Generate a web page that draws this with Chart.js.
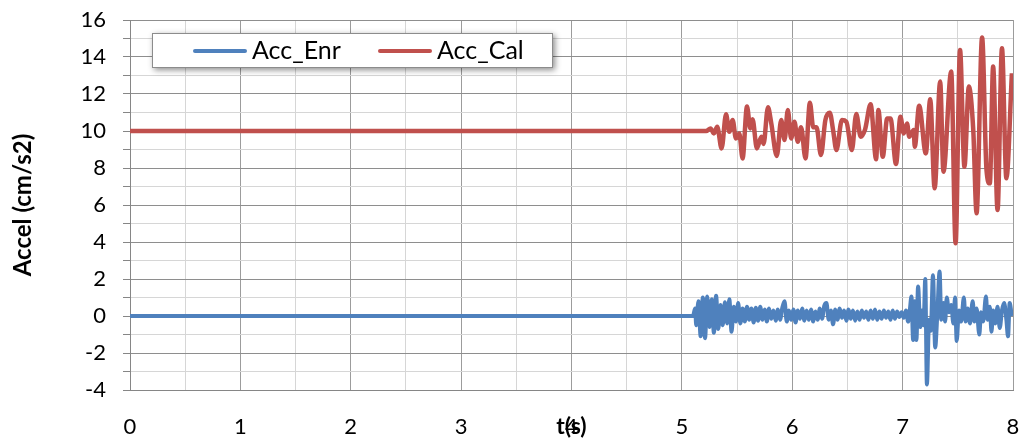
<!DOCTYPE html>
<html>
<head>
<meta charset="utf-8">
<script src="https://cdn.jsdelivr.net/npm/chart.js@4"></script>
<style>
  html, body { margin: 0; padding: 0; background: #ffffff; }
  #wrap { position: relative; width: 1024px; height: 444px; }
  #legend {
    position: absolute; left: 152px; top: 33px; width: 399px; height: 33px;
    border: 1.5px solid #8c8c8c; background: #fff;
    box-shadow: 2px 2px 6px rgba(0,0,0,0.45);
    font-family: Lato, "Liberation Sans", sans-serif; font-size: 25px; color: #000;
  }
  .item { position: absolute; top: 0; height: 33px; line-height: 33px; white-space: nowrap; }
  .swatch { position: absolute; top: 15px; width: 54px; height: 4px; border-radius: 2px; }
  .lbl { position: absolute; top: -1px; }
</style>
</head>
<body>
<div id="wrap">
  <canvas id="c" width="1024" height="444"></canvas>
  <div id="legend"></div>
</div>
<script>
// ---- data ----
const seriesNames = ['Acc_Enr', 'Acc_Cal'];
const xTickLabels = ['0','1','2','3','4','5','6','7','8'];
const yTickLabels = ['-4','-2','0','2','4','6','8','10','12','14','16'];

const enrTimes = [0, 5.10, 5.12, 5.13, 5.15, 5.17, 5.19, 5.21, 5.23, 5.25, 5.27, 5.29, 5.31, 5.33, 5.35, 5.37, 5.39, 5.41, 5.43, 5.45,
  5.47, 5.49, 5.51, 5.53, 5.55, 5.57, 5.59, 5.61, 5.63, 5.65, 5.67, 5.69, 5.71, 5.73, 5.75, 5.77, 5.79, 5.81, 5.83, 5.85,
  5.87, 5.89, 5.91, 5.93, 5.95, 5.97, 5.99, 6.01, 6.03, 6.05, 6.07, 6.09, 6.11, 6.13, 6.15, 6.17, 6.19, 6.21, 6.23, 6.25,
  6.27, 6.29, 6.31, 6.33, 6.35, 6.37, 6.39, 6.41, 6.43, 6.45, 6.47, 6.49, 6.51, 6.53, 6.55, 6.57, 6.59, 6.61, 6.63, 6.65,
  6.67, 6.69, 6.71, 6.73, 6.75, 6.77, 6.79, 6.81, 6.83, 6.85, 6.87, 6.89, 6.91, 6.93, 6.95, 6.97, 6.99, 7.01, 7.03, 7.05,
  7.065, 7.08, 7.095, 7.11, 7.125, 7.14, 7.16, 7.175, 7.19, 7.205, 7.22, 7.24, 7.255, 7.275, 7.295, 7.315, 7.335, 7.35, 7.37, 7.385,
  7.40, 7.42, 7.44, 7.46, 7.475, 7.49, 7.51, 7.53, 7.555, 7.57, 7.59, 7.61, 7.635, 7.65, 7.67, 7.695, 7.71, 7.73, 7.755, 7.77,
  7.79, 7.805, 7.82, 7.84, 7.86, 7.88, 7.90, 7.92, 7.94, 7.955, 7.97, 7.99, 8.00];
const enrValues = [0, 0, 0.4, -0.5, 0.8, -1.1, 1.0, -1.2, 1.05, -0.6, 0.9, -0.9, 1.1, -0.7, 0.6, -0.5, 0.75, -0.4, 0.9, -0.85,
  0.5, -0.3, 0.7, -0.4, 0.4, -0.3, 0.5, -0.2, 0.4, -0.35, 0.45, -0.25, 0.5, -0.2, 0.35, -0.3, 0.4, -0.15, 0.3, -0.25,
  0.35, -0.2, 0.45, 0.8, -0.3, 0.3, -0.2, 0.35, -0.35, 0.3, -0.15, 0.4, -0.25, 0.3, -0.2, 0.35, -0.3, 0.25, -0.2, 0.4,
  -0.15, 0.55, 0.7, -0.2, 0.3, -0.45, 0.35, -0.2, 0.4, -0.1, 0.3, -0.25, 0.35, -0.15, 0.3, -0.25, 0.25, -0.2, 0.3, -0.1,
  0.25, -0.2, 0.3, -0.15, 0.35, -0.2, 0.25, -0.15, 0.3, -0.1, 0.25, -0.2, 0.3, -0.15, 0.25, -0.05, 0.2, -0.1, 0.3, -0.3,
  0.3, 1.05, -1.3, 0.8, -1.3, 1.6, -0.6, 0.3, -0.5, 2.0, -3.7, -0.2, -0.8, 2.2, -1.7, 0.2, 2.4, -0.2, 0.7, -0.3,
  1.0, 0.2, 0.6, -0.4, 1.0, -1.35, 0.3, -0.3, 1.0, -0.3, 0.4, -0.4, 0.8, -0.3, 0.4, -1.0, 0.2, -0.3, 1.05, -0.2,
  0.5, -0.85, 0.3, -0.4, 0.5, -0.65, 0.3, 0.7, -0.2, -1.1, 0.7, 0.1, 0.3];

const calTimes = [0, 5.22, 5.26, 5.29, 5.32, 5.36, 5.40, 5.43, 5.46, 5.49, 5.52, 5.55, 5.59, 5.62, 5.64, 5.68, 5.72, 5.74, 5.78, 5.81,
  5.86, 5.90, 5.93, 5.96, 5.99, 6.02, 6.05, 6.08, 6.12, 6.16, 6.19, 6.22, 6.26, 6.30, 6.34, 6.37, 6.40, 6.45, 6.49, 6.54,
  6.58, 6.62, 6.66, 6.71, 6.76, 6.78, 6.82, 6.86, 6.89, 6.94, 6.98, 7.01, 7.04, 7.06, 7.10, 7.11, 7.15, 7.21, 7.25, 7.29,
  7.34, 7.37, 7.44, 7.48, 7.52, 7.56, 7.60, 7.64, 7.67, 7.72, 7.76, 7.79, 7.82, 7.86, 7.90, 7.94, 7.99];
const calValues = [10, 10.0, 10.14, 9.87, 10.23, 9.06, 10.9, 9.96, 10.59, 9.6, 9.87, 8.52, 11.32, 10.14, 10.63, 9.06, 9.69, 9.3, 11.28, 10.41,
  8.65, 10.59, 9.51, 11.14, 9.6, 10.5, 9.42, 10.2, 8.52, 11.53, 10.2, 10.2, 8.7, 10.59, 10.99, 10.05, 8.97, 10.59, 10.5, 8.97,
  10.92, 9.69, 10.09, 11.44, 8.47, 11.14, 8.61, 10.68, 10.68, 8.22, 10.77, 9.87, 10.41, 9.69, 10.05, 9.15, 11.37, 8.79, 11.71, 6.9,
  12.67, 7.8, 13.21, 3.93, 14.38, 8.07, 12.4, 10.05, 5.55, 15.06, 7.89, 7.17, 13.48, 5.73, 14.47, 7.44, 13.12];

const colors = ['#4F81BD', '#C0504D'];

// ---- build ----
const toPts = (ts, vs) => ts.map((t, i) => ({ x: t, y: vs[i] }));
const FONT = 'Lato, "Liberation Sans", sans-serif';

const legendEl = document.getElementById('legend');
const legendPos = [{ line: 40, text: 99 }, { line: 225, text: 284 }];
seriesNames.forEach((n, i) => {
  const sw = document.createElement('div');
  sw.className = 'swatch'; sw.style.left = legendPos[i].line + 'px'; sw.style.background = colors[i];
  const lb = document.createElement('div');
  lb.className = 'item lbl'; lb.style.left = legendPos[i].text + 'px'; lb.textContent = n;
  legendEl.appendChild(sw); legendEl.appendChild(lb);
});

new Chart(document.getElementById('c'), {
  type: 'line',
  data: {
    datasets: [
      { label: seriesNames[0], data: toPts(enrTimes, enrValues), borderColor: colors[0], backgroundColor: colors[0],
        borderWidth: 4, pointRadius: 0, cubicInterpolationMode: 'monotone', fill: false },
      { label: seriesNames[1], data: toPts(calTimes, calValues), borderColor: colors[1], backgroundColor: colors[1],
        borderWidth: 4.5, pointRadius: 0, cubicInterpolationMode: 'monotone', fill: false }
    ]
  },
  options: {
    responsive: false,
    animation: false,
    devicePixelRatio: 1,
    layout: { padding: { top: 20, right: 11, left: 0, bottom: 0 } },
    plugins: { legend: { display: false }, tooltip: { enabled: false } },
    scales: {
      x: {
        type: 'linear', min: 0, max: 8,
        afterFit: s => { s.height = 54; s.paddingRight = 0; s.paddingLeft = 0; },
        ticks: {
          stepSize: 0.5, autoSkip: false, maxRotation: 0, padding: 24,
          color: '#000', font: { family: FONT, size: 22 },
          callback: v => (Number.isInteger(v) ? xTickLabels[v] : '')
        },
        grid: {
          drawTicks: false,
          color: c => (Number.isInteger(c.tick.value) ? '#9c9c9c' : '#d6d6d6'),
          lineWidth: 1
        },
        border: { color: '#868686', width: 1 },
        title: { display: true, text: 't(s)', color: '#000',
          font: { family: FONT, size: 23, weight: 'bold' }, padding: { top: 0, bottom: 4 } }
      },
      y: {
        type: 'linear', min: -4, max: 16,
        afterFit: s => { s.width = 130; s.paddingTop = 0; s.paddingBottom = 0; },
        ticks: {
          stepSize: 1, autoSkip: false, padding: 17,
          color: '#000', font: { family: FONT, size: 22 },
          callback: v => (v % 2 === 0 ? yTickLabels[(v + 4) / 2] : '')
        },
        grid: {
          drawTicks: true, tickLength: 7, tickColor: '#868686',
          color: c => (c.tick.value % 2 === 0 ? '#8e8e8e' : '#d6d6d6'),
          lineWidth: 1
        },
        border: { color: '#868686', width: 1 },
        title: { display: true, text: 'Accel (cm/s2)', color: '#000',
          font: { family: FONT, size: 24, weight: 'bold' }, padding: { top: 9, bottom: 0 } }
      }
    }
  }
});
</script>
</body>
</html>
